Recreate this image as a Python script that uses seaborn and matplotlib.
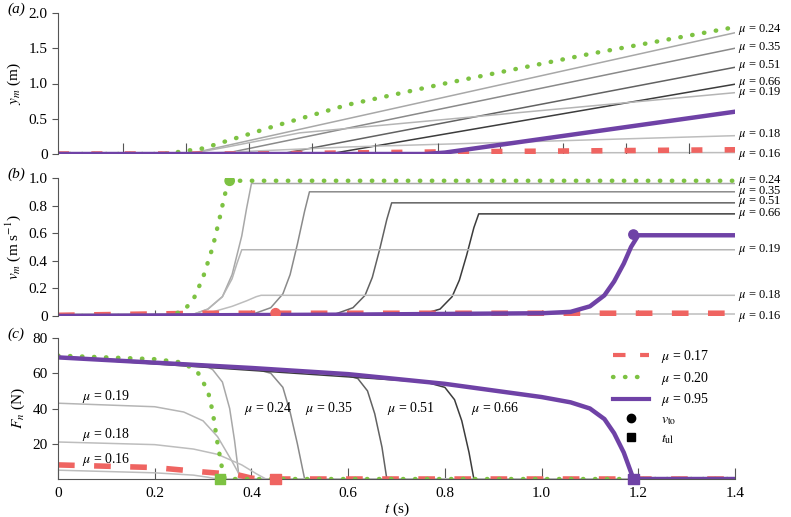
import matplotlib
matplotlib.use("Agg")
import matplotlib.pyplot as plt
import seaborn as sns
import pandas as pd
from matplotlib.lines import Line2D

plt.rcParams["font.family"] = "Liberation Serif"
plt.rcParams["mathtext.fontset"] = "stix"
plt.rcParams["font.size"] = 11

# --- colours ---
GREEN = "#7dc242"
RED = "#ef6461"
PURPLE = "#6f42a6"
GREYS = {"0.16": "#bdbdbd", "0.18": "#bdbdbd", "0.19": "#b5b5b5", "0.24": "#a8a8a8",
         "0.35": "#8a8a8a", "0.51": "#626262", "0.66": "#3c3c3c"}

# --- panel (a): y_m (m) ---
a_t = {"0.24": [0, 0.27, 1.4], "0.35": [0, 0.34, 1.4], "0.51": [0, 0.46, 1.4],
       "0.66": [0, 0.56, 1.4], "0.19": [0, 0.27, 0.35, 0.5, 1.4],
       "0.18": [0, 0.27, 0.4, 0.6, 1.4], "0.16": [0, 1.4]}
a_y = {"0.24": [0, 0, 1.72], "0.35": [0, 0, 1.50], "0.51": [0, 0, 1.23],
       "0.66": [0, 0, 0.99], "0.19": [0, 0, 0.10, 0.30, 0.87],
       "0.18": [0, 0, 0.04, 0.10, 0.26], "0.16": [0.01, 0.02]}
a_green_t = [0, 0.22, 0.3, 0.45, 0.6, 0.8, 1.1, 1.4]
a_green_y = [0, 0, 0.08, 0.40, 0.70, 1.00, 1.42, 1.80]
a_red_t = [0, 0.4, 0.8, 1.4]
a_red_y = [0, 0.0, 0.03, 0.06]
a_purple_t = [0, 0.76, 0.80, 1.4]
a_purple_y = [0, 0, 0.02, 0.60]
a_ticks = [0.134, 0.265, 0.395, 0.525, 0.655, 0.785, 0.915, 1.045, 1.175, 1.305]
a_label_y = {"0.24": 1.77, "0.35": 1.51, "0.51": 1.25, "0.66": 1.01, "0.19": 0.87,
             "0.18": 0.27, "0.16": 0.0}

# --- panel (b): v_m (m s^-1) ---
b_t = {"0.24": [0, 0.27, 0.31, 0.34, 0.36, 0.38, 0.39, 0.40, 1.4],
       "0.35": [0, 0.40, 0.44, 0.465, 0.48, 0.495, 0.51, 0.52, 1.4],
       "0.51": [0, 0.57, 0.61, 0.635, 0.65, 0.665, 0.68, 0.69, 1.4],
       "0.66": [0, 0.75, 0.79, 0.815, 0.83, 0.845, 0.86, 0.87, 1.4],
       "0.19": [0, 0.27, 0.31, 0.34, 0.36, 0.37, 0.38, 1.4],
       "0.18": [0, 0.27, 0.32, 0.36, 0.39, 0.41, 0.42, 1.4],
       "0.16": [0, 1.4]}
b_y = {"0.24": [0, 0, 0.05, 0.14, 0.30, 0.58, 0.78, 0.96, 0.96],
       "0.35": [0, 0.01, 0.06, 0.16, 0.30, 0.52, 0.76, 0.90, 0.90],
       "0.51": [0, 0.01, 0.06, 0.15, 0.28, 0.48, 0.70, 0.82, 0.82],
       "0.66": [0, 0.01, 0.05, 0.14, 0.26, 0.44, 0.64, 0.74, 0.74],
       "0.19": [0, 0, 0.05, 0.14, 0.27, 0.38, 0.48, 0.48],
       "0.18": [0, 0, 0.03, 0.07, 0.11, 0.14, 0.15, 0.15],
       "0.16": [0.012, 0.012]}
b_green_t = [0, 0.23, 0.26, 0.28, 0.30, 0.32, 0.335, 0.345, 0.355, 1.4]
b_green_y = [0, 0, 0.04, 0.12, 0.28, 0.50, 0.72, 0.88, 0.98, 0.98]
b_red_t = [0, 0.3, 1.4]
b_red_y = [0.005, 0.02, 0.02]
b_purple_t = [0, 0.6, 1.0, 1.06, 1.10, 1.13, 1.15, 1.17, 1.185, 1.20, 1.4]
b_purple_y = [0.0, 0.01, 0.02, 0.03, 0.07, 0.15, 0.25, 0.38, 0.50, 0.585, 0.585]
b_ticks = [0.2, 0.4, 0.6, 0.8, 1.0, 1.2]
b_label_y = {"0.24": 0.98, "0.35": 0.905, "0.51": 0.83, "0.66": 0.745, "0.19": 0.48,
             "0.18": 0.15, "0.16": 0.0}
b_vto_t = [0.355, 0.45, 1.19]
b_vto_y = [0.98, 0.02, 0.59]

# --- panel (c): F_n (N) ---
c_t = {"0.24": [0, 0.30, 0.32, 0.34, 0.355, 0.365, 0.375, 1.4],
       "0.35": [0, 0.40, 0.44, 0.465, 0.48, 0.495, 0.51, 1.4],
       "0.51": [0, 0.58, 0.62, 0.64, 0.655, 0.67, 0.68, 1.4],
       "0.66": [0, 0.76, 0.80, 0.82, 0.835, 0.85, 0.86, 1.4],
       "0.19": [0, 0.20, 0.26, 0.30, 0.33, 0.36, 0.38, 1.4],
       "0.18": [0, 0.20, 0.28, 0.33, 0.38, 0.41, 0.43, 1.4],
       "0.16": [0, 0.20, 0.28, 0.31, 0.33, 1.4]}
c_y = {"0.24": [69.5, 65, 62, 55, 40, 22, 0, 0], "0.35": [69.5, 63, 60, 52, 38, 20, 0, 0],
       "0.51": [69, 60, 57, 50, 37, 18, 0, 0], "0.66": [69, 55, 52, 45, 33, 15, 0, 0],
       "0.19": [43, 41, 38, 33, 24, 10, 0, 0], "0.18": [21, 19.5, 17, 14, 8, 3, 0, 0],
       "0.16": [5, 3.5, 2.2, 1, 0, 0]}
c_green_t = [0, 0.2, 0.26, 0.29, 0.31, 0.32, 0.33, 0.34, 0.345, 1.4]
c_green_y = [70, 68, 66, 60, 50, 38, 20, 5, 0, 0]
c_red_t = [0, 0.2, 0.3, 0.37, 0.40, 0.42, 1.4]
c_red_y = [8, 6.5, 4, 2.5, 0.5, 0, 0]
c_purple_t = [0, 0.4, 0.6, 0.8, 1.0, 1.06, 1.10, 1.13, 1.15, 1.17, 1.19, 1.4]
c_purple_y = [69, 63, 59.5, 54, 46.5, 43.5, 40, 34, 26, 15, 0, 0]
c_tul_t = [0.335, 0.45, 1.19]
c_tul_y = [0, 0, 0]
c_labels = {"0.19": (0.05, 45), "0.18": (0.05, 23), "0.16": (0.05, 9),
            "0.24": (0.385, 38), "0.35": (0.51, 38), "0.51": (0.68, 38), "0.66": (0.855, 38)}
x_ticks = [0, 0.2, 0.4, 0.6, 0.8, 1.0, 1.2, 1.4]


def line(ax, t, y, **kw):
    sns.lineplot(data=pd.DataFrame({"t": t, "y": y}), x="t", y="y", ax=ax,
                 legend=False, estimator=None, sort=False, **kw)


fig = plt.figure(figsize=(7.91, 5.17), dpi=100)
L, W = 58 / 791, 677 / 791
ax_a = fig.add_axes([L, 363 / 517, W, 141 / 517])
ax_b = fig.add_axes([L, 201 / 517, W, 138 / 517])
ax_c = fig.add_axes([L, 38 / 517, W, 141 / 517])

for ax in (ax_a, ax_b, ax_c):
    ax.set_xlim(0, 1.4)
    for s in ("top", "right"):
        ax.spines[s].set_visible(False)
    ax.spines["left"].set_color("#555555")
    ax.tick_params(axis="y", direction="out", length=4, color="#555555")

LAB_KW = dict(fontsize=9, va="center", clip_on=False)

# panel a
for k in a_t:
    line(ax_a, a_t[k], a_y[k], color=GREYS[k], linewidth=1.1)
    ax_a.text(1.407, a_label_y[k], rf"$\mu$ = {k}", **LAB_KW)
ax_a.vlines(a_ticks, 0, 0.15, color="#555555", linewidth=0.8)
line(ax_a, a_red_t, a_red_y, color=RED, linewidth=4, dashes=(2, 4))
ax_a.plot(a_green_t, a_green_y, color=GREEN, linewidth=3.2, linestyle=(0, (0.1, 2.6)),
          dash_capstyle="round")
line(ax_a, a_purple_t, a_purple_y, color=PURPLE, linewidth=3.2)
ax_a.set_ylim(0, 2.0)
ax_a.set_yticks([0, 0.5, 1.0, 1.5, 2.0], ["0", "0.5", "1.0", "1.5", "2.0"])
ax_a.spines["bottom"].set_visible(False)
ax_a.set_xticks([])
ax_a.set_xlabel("")
ax_a.set_ylabel("$y_m$ (m)")

# panel b
for k in b_t:
    line(ax_b, b_t[k], b_y[k], color=GREYS[k], linewidth=1.1)
    ax_b.text(1.407, b_label_y[k], rf"$\mu$ = {k}", **LAB_KW)
ax_b.vlines(b_ticks, 0, 0.04, color="#555555", linewidth=0.8)
line(ax_b, b_red_t, b_red_y, color=RED, linewidth=4, dashes=(3, 3.5))
ax_b.plot(b_green_t, b_green_y, color=GREEN, linewidth=3.2, linestyle=(0, (0.1, 2.6)),
          dash_capstyle="round")
line(ax_b, b_purple_t, b_purple_y, color=PURPLE, linewidth=3.2)
ax_b.scatter(b_vto_t, b_vto_y, c=[GREEN, RED, PURPLE], s=45, zorder=5)
ax_b.set_ylim(0, 1.0)
ax_b.set_yticks([0, 0.2, 0.4, 0.6, 0.8, 1.0], ["0", "0.2", "0.4", "0.6", "0.8", "1.0"])
ax_b.spines["bottom"].set_visible(False)
ax_b.set_xticks([])
ax_b.set_xlabel("")
ax_b.set_ylabel("$v_m$ (m s$^{-1}$)")

# panel c
for k in c_t:
    line(ax_c, c_t[k], c_y[k], color=GREYS[k], linewidth=1.1)
    ax_c.text(c_labels[k][0], c_labels[k][1], rf"$\mu$ = {k}", fontsize=10)
line(ax_c, c_red_t, c_red_y, color=RED, linewidth=4, dashes=(3, 3.5))
ax_c.plot(c_green_t, c_green_y, color=GREEN, linewidth=3.2, linestyle=(0, (0.1, 2.6)),
          dash_capstyle="round")
line(ax_c, c_purple_t, c_purple_y, color=PURPLE, linewidth=3.2)
ax_c.scatter(c_tul_t, c_tul_y, c=[GREEN, RED, PURPLE], marker="s", s=55, zorder=5,
             clip_on=False)
ax_c.set_ylim(0, 80)
ax_c.set_yticks([20, 40, 60, 80])
ax_c.set_xticks(x_ticks, ["0", "0.2", "0.4", "0.6", "0.8", "1.0", "1.2", "1.4"])
ax_c.tick_params(axis="x", direction="in", length=8, color="#555555", pad=6)
ax_c.spines["bottom"].set_color("#555555")
ax_c.set_xlabel("$t$ (s)", labelpad=0)
ax_c.set_ylabel("$F_n$ (N)")

handles = [Line2D([], [], color=RED, lw=3, dashes=(3, 3.5)),
           Line2D([], [], color=GREEN, lw=3.2, linestyle=(0, (0.1, 2.6)), dash_capstyle="round"),
           Line2D([], [], color=PURPLE, lw=3),
           Line2D([], [], color="black", marker="o", lw=0, markersize=6),
           Line2D([], [], color="black", marker="s", lw=0, markersize=6)]
ax_c.legend(handles, [r"$\mu$ = 0.17", r"$\mu$ = 0.20", r"$\mu$ = 0.95",
                      r"$v_{\mathrm{to}}$", r"$t_{\mathrm{ul}}$"],
            loc="upper right", bbox_to_anchor=(0.98, 1.02), frameon=False,
            fontsize=10, handlelength=2.6, labelspacing=0.35)

for ax, lab in ((ax_a, "(a)"), (ax_b, "(b)"), (ax_c, "(c)")):
    ax.text(-0.075, 1.03, lab, transform=ax.transAxes, fontsize=11, style="italic",
            va="center")

fig.savefig("out.png", dpi=100)
